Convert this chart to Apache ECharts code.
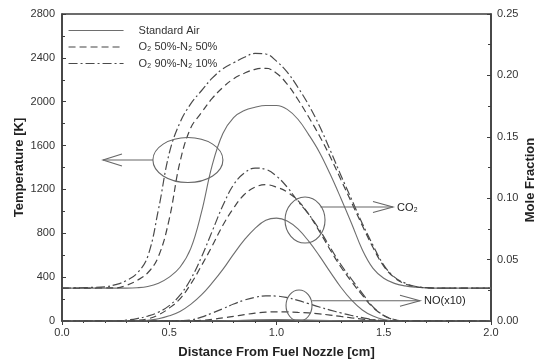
<!DOCTYPE html>
<html>
<head>
<meta charset="utf-8">
<script src="https://cdn.jsdelivr.net/npm/echarts@6/dist/echarts.min.js"></script>
<style>
html,body{margin:0;padding:0;background:#fff;}
#c{width:537px;height:362px;}
</style>
</head>
<body>
<div id="c"></div>
<script>
// ---- Data ----
const seriesNames = ['Standard Air', 'O\u2082 50%-N\u2082 50%', 'O\u2082 90%-N\u2082 10%'];

// Temperature [K]
const tStdX = [0, 0.30, 0.35, 0.40, 0.45, 0.50, 0.55, 0.60, 0.65, 0.70, 0.75, 0.80, 0.85, 0.90, 0.95, 1.00, 1.05, 1.10, 1.15, 1.20, 1.25, 1.30, 1.35, 1.40, 1.45, 1.50, 1.55, 1.60, 1.65, 1.70, 1.75, 2.0];
const tStdY = [300, 300, 303, 315, 345, 400, 490, 660, 990, 1420, 1710, 1855, 1920, 1950, 1966, 1965, 1930, 1840, 1700, 1540, 1340, 1120, 890, 650, 480, 390, 343, 320, 308, 302, 300, 300];

const t50X = [0, 0.25, 0.30, 0.35, 0.40, 0.45, 0.50, 0.55, 0.60, 0.65, 0.70, 0.75, 0.80, 0.85, 0.90, 0.95, 1.00, 1.05, 1.10, 1.15, 1.20, 1.25, 1.30, 1.35, 1.40, 1.45, 1.50, 1.55, 1.60, 1.65, 1.70, 1.75, 2.0];
const t50Y = [300, 302, 325, 370, 440, 590, 930, 1450, 1760, 1900, 2030, 2130, 2210, 2260, 2295, 2305, 2260, 2160, 2020, 1860, 1690, 1500, 1290, 1080, 870, 670, 500, 395, 338, 312, 302, 300, 300];

const t90X = [0, 0.20, 0.25, 0.30, 0.35, 0.40, 0.45, 0.50, 0.55, 0.60, 0.65, 0.70, 0.75, 0.80, 0.85, 0.90, 0.95, 1.00, 1.05, 1.10, 1.15, 1.20, 1.25, 1.30, 1.35, 1.40, 1.45, 1.50, 1.55, 1.60, 1.65, 1.70, 1.75, 2.0];
const t90Y = [300, 312, 332, 368, 435, 590, 1020, 1530, 1810, 1980, 2100, 2215, 2300, 2355, 2405, 2440, 2435, 2370, 2270, 2130, 1970, 1780, 1560, 1330, 1110, 890, 690, 510, 400, 345, 315, 304, 300, 300];

// CO2 mole fraction
const cStdX = [0, 0.35, 0.40, 0.45, 0.50, 0.55, 0.60, 0.65, 0.70, 0.75, 0.80, 0.85, 0.90, 0.95, 1.00, 1.05, 1.10, 1.15, 1.20, 1.25, 1.30, 1.35, 1.40, 1.45, 1.50, 1.55, 1.60, 2.0];
const cStdY = [0, 0, 0.0005, 0.0018, 0.0042, 0.0078, 0.0135, 0.0212, 0.031, 0.042, 0.0545, 0.066, 0.0755, 0.082, 0.0838, 0.0815, 0.075, 0.065, 0.053, 0.040, 0.0275, 0.017, 0.009, 0.004, 0.0012, 0.0002, 0, 0];

const c50X = [0, 0.30, 0.35, 0.40, 0.45, 0.50, 0.55, 0.60, 0.65, 0.70, 0.75, 0.80, 0.85, 0.90, 0.95, 1.00, 1.05, 1.10, 1.15, 1.20, 1.25, 1.30, 1.35, 1.40, 1.45, 1.50, 1.55, 1.60, 2.0];
const c50Y = [0, 0, 0.0005, 0.0018, 0.005, 0.0105, 0.018, 0.030, 0.045, 0.061, 0.078, 0.092, 0.103, 0.109, 0.111, 0.109, 0.105, 0.098, 0.087, 0.073, 0.058, 0.044, 0.032, 0.021, 0.011, 0.0045, 0.0012, 0, 0];

const c90X = [0, 0.25, 0.30, 0.35, 0.40, 0.45, 0.50, 0.55, 0.60, 0.65, 0.70, 0.75, 0.80, 0.85, 0.90, 0.95, 1.00, 1.05, 1.10, 1.15, 1.20, 1.25, 1.30, 1.35, 1.40, 1.45, 1.50, 1.55, 1.60, 2.0];
const c90Y = [0, 0, 0.0007, 0.002, 0.004, 0.0072, 0.0125, 0.021, 0.034, 0.052, 0.073, 0.094, 0.111, 0.1205, 0.1245, 0.1235, 0.118, 0.109, 0.0975, 0.087, 0.0745, 0.060, 0.046, 0.034, 0.0225, 0.0115, 0.0045, 0.001, 0, 0];

// NO (x10) mole fraction
const nStdX = [0, 0.70, 0.80, 0.90, 1.00, 1.10, 1.20, 1.30, 1.40, 2.0];
const nStdY = [0, 0, 0.0004, 0.0009, 0.0011, 0.0009, 0.0005, 0.0002, 0, 0];

const n50X = [0, 0.55, 0.60, 0.65, 0.70, 0.75, 0.80, 0.85, 0.90, 0.95, 1.00, 1.05, 1.10, 1.15, 1.20, 1.25, 1.30, 1.35, 1.40, 1.45, 1.50, 1.55, 1.60, 2.0];
const n50Y = [0, 0, 0.0002, 0.0006, 0.0014, 0.0025, 0.0038, 0.0052, 0.0064, 0.0072, 0.0075, 0.0074, 0.0070, 0.0066, 0.0058, 0.0048, 0.0037, 0.0026, 0.0016, 0.0009, 0.0004, 0.0001, 0, 0];

const n90X = [0, 0.50, 0.55, 0.60, 0.65, 0.70, 0.75, 0.80, 0.85, 0.90, 0.95, 1.00, 1.05, 1.10, 1.15, 1.20, 1.25, 1.30, 1.35, 1.40, 1.45, 1.50, 1.55, 2.0];
const n90Y = [0, 0, 0.0002, 0.0008, 0.0032, 0.0065, 0.010, 0.0138, 0.0170, 0.0193, 0.0205, 0.0203, 0.0190, 0.0168, 0.0141, 0.0114, 0.0089, 0.0066, 0.0045, 0.0027, 0.0012, 0.0004, 0, 0];

// Axis ranges / ticks
const xRange = [0, 2.0, 0.5];
const tRange = [0, 2800, 400];
const mRange = [0, 0.25, 0.05];

// Annotations (data coordinates)
const tempNote = { center: [0.587, 1468], arrowTo: [0.191, 1468] };
const co2Note = { center: [1.133, 0.0822], arrowFrom: [1.205, 0.0928], arrowTo: [1.543, 0.0928], label: 'CO\u2082' };
const noNote = { center: [1.105, 0.0126], arrowFrom: [1.166, 0.0165], arrowTo: [1.669, 0.0165], label: 'NO(x10)' };

// ---- Chart ----
const zip = (xs, ys) => xs.map((x, i) => [x, ys[i]]);
const FONT = '"Liberation Sans", Arial, Helvetica, sans-serif';
const styles = [
  { color: '#6e6e6e', type: 'solid', width: 1.1 },
  { color: '#454545', type: [7, 4], width: 1.2 },
  { color: '#4a4a4a', type: [9, 3, 2, 3], width: 1.2 }
];

function mk(name, styleIdx, xs, ys, yAxisIndex) {
  return {
    name: name, type: 'line', yAxisIndex: yAxisIndex,
    data: zip(xs, ys), symbol: 'none', showSymbol: false,
    smooth: 0.4,
    lineStyle: Object.assign({}, styles[styleIdx]),
    itemStyle: { color: styles[styleIdx].color },
    z: 3
  };
}

const chart = echarts.init(document.getElementById('c'), null, { renderer: 'canvas' });

const axisCommon = {
  axisLine: { show: true, lineStyle: { color: '#3d3d3d', width: 1.5 } },
  splitLine: { show: false },
  nameMoveOverlap: false,
  nameTextStyle: { color: '#222', fontSize: 13, fontWeight: 'bold', fontFamily: FONT }
};

const option = {
  animation: false,
  backgroundColor: '#fff',
  textStyle: { fontFamily: FONT },
  grid: { left: 62, right: 46, top: 14, bottom: 41, show: true, borderColor: '#3d3d3d', borderWidth: 1.5, containLabel: false, outerBoundsMode: 'none' },
  legend: {
    data: seriesNames,
    orient: 'vertical',
    left: 68, top: 25, padding: 0,
    itemWidth: 55, itemHeight: 12, itemGap: 5.5,
    selectedMode: false,
    itemStyle: { opacity: 0 },
    lineStyle: { width: 1.1 },
    textStyle: { color: '#333', fontSize: 11, fontFamily: FONT, padding: [0, 0, 0, 10] }
  },
  xAxis: Object.assign({}, axisCommon, {
    type: 'value', min: xRange[0], max: xRange[1], interval: xRange[2],
    name: 'Distance From Fuel Nozzle [cm]', nameLocation: 'middle', nameGap: 25,
    axisTick: { show: true, inside: false, length: 4, lineStyle: { color: '#3d3d3d' } },
    minorTick: { show: true, splitNumber: 5, length: 2, lineStyle: { color: '#3d3d3d' } },
    axisLabel: { color: '#333', fontSize: 11, fontFamily: FONT, margin: 6, formatter: v => v.toFixed(1) }
  }),
  yAxis: [
    Object.assign({}, axisCommon, {
      type: 'value', position: 'left', min: tRange[0], max: tRange[1], interval: tRange[2],
      name: 'Temperature [K]', nameLocation: 'middle', nameGap: 36,
      axisTick: { show: true, inside: true, length: 4, lineStyle: { color: '#3d3d3d' } },
      minorTick: { show: true, splitNumber: 2, length: 3, lineStyle: { color: '#3d3d3d' } },
      axisLabel: { color: '#333', fontSize: 11, fontFamily: FONT, margin: 7, formatter: v => String(v) }
    }),
    Object.assign({}, axisCommon, {
      type: 'value', position: 'right', min: mRange[0], max: mRange[1], interval: mRange[2],
      name: 'Mole Fraction', nameLocation: 'middle', nameGap: 33,
      nameTextStyle: { color: '#222', fontSize: 13, fontWeight: 'bold', fontFamily: FONT, padding: [0, 25, 0, 0] },
      axisTick: { show: true, inside: true, length: 4, lineStyle: { color: '#3d3d3d' } },
      minorTick: { show: true, splitNumber: 2, length: 3, lineStyle: { color: '#3d3d3d' } },
      axisLabel: { color: '#333', fontSize: 11, fontFamily: FONT, margin: 6, formatter: v => v.toFixed(2) }
    })
  ],
  series: [
    mk(seriesNames[0], 0, tStdX, tStdY, 0),
    mk(seriesNames[1], 1, t50X, t50Y, 0),
    mk(seriesNames[2], 2, t90X, t90Y, 0),
    mk(seriesNames[0], 0, cStdX, cStdY, 1),
    mk(seriesNames[1], 1, c50X, c50Y, 1),
    mk(seriesNames[2], 2, c90X, c90Y, 1),
    mk(seriesNames[0], 0, nStdX, nStdY, 1),
    mk(seriesNames[1], 1, n50X, n50Y, 1),
    mk(seriesNames[2], 2, n90X, n90Y, 1)
  ]
};
chart.setOption(option);

// ---- Annotations positioned through the axes ----
const pT = v => chart.convertToPixel({ xAxisIndex: 0, yAxisIndex: 0 }, v);
const pM = v => chart.convertToPixel({ xAxisIndex: 0, yAxisIndex: 1 }, v);
const annStyle = { stroke: '#666', lineWidth: 1.1, fill: null };

function arrowHead(tip, dir, len, half) {
  return { type: 'polyline', shape: { points: [[tip[0] - dir * len, tip[1] - half], tip, [tip[0] - dir * len, tip[1] + half]] }, style: annStyle, z: 10 };
}

const g = [];
{
  const c = pT(tempNote.center), to = pT(tempNote.arrowTo);
  const rx = 35, ry = 22.5;
  g.push({ type: 'ellipse', shape: { cx: c[0], cy: c[1], rx: rx, ry: ry }, style: annStyle, z: 10 });
  g.push({ type: 'line', shape: { x1: c[0] - rx, y1: c[1], x2: to[0], y2: to[1] }, style: annStyle, z: 10 });
  g.push(arrowHead(to, -1, 19, 6));
}
{
  const c = pM(co2Note.center), from = pM(co2Note.arrowFrom), to = pM(co2Note.arrowTo);
  g.push({ type: 'ellipse', shape: { cx: c[0], cy: c[1], rx: 20, ry: 23 }, style: annStyle, z: 10 });
  g.push({ type: 'line', shape: { x1: from[0], y1: from[1], x2: to[0], y2: to[1] }, style: annStyle, z: 10 });
  g.push(arrowHead(to, 1, 20, 5.5));
  g.push({ type: 'text', x: to[0] + 4, y: to[1] + 1, style: { text: co2Note.label, fill: '#222', fontSize: 11, fontFamily: FONT, verticalAlign: 'middle', align: 'left' }, z: 10 });
}
{
  const c = pM(noNote.center), from = pM(noNote.arrowFrom), to = pM(noNote.arrowTo);
  g.push({ type: 'ellipse', shape: { cx: c[0], cy: c[1], rx: 13, ry: 15.5 }, style: annStyle, z: 10 });
  g.push({ type: 'line', shape: { x1: from[0], y1: from[1], x2: to[0], y2: to[1] }, style: annStyle, z: 10 });
  g.push(arrowHead(to, 1, 20, 5.5));
  g.push({ type: 'text', x: to[0] + 4, y: to[1], style: { text: noNote.label, fill: '#222', fontSize: 11, fontFamily: FONT, verticalAlign: 'middle', align: 'left' }, z: 10 });
}
chart.setOption({ graphic: g });
</script>
</body>
</html>
